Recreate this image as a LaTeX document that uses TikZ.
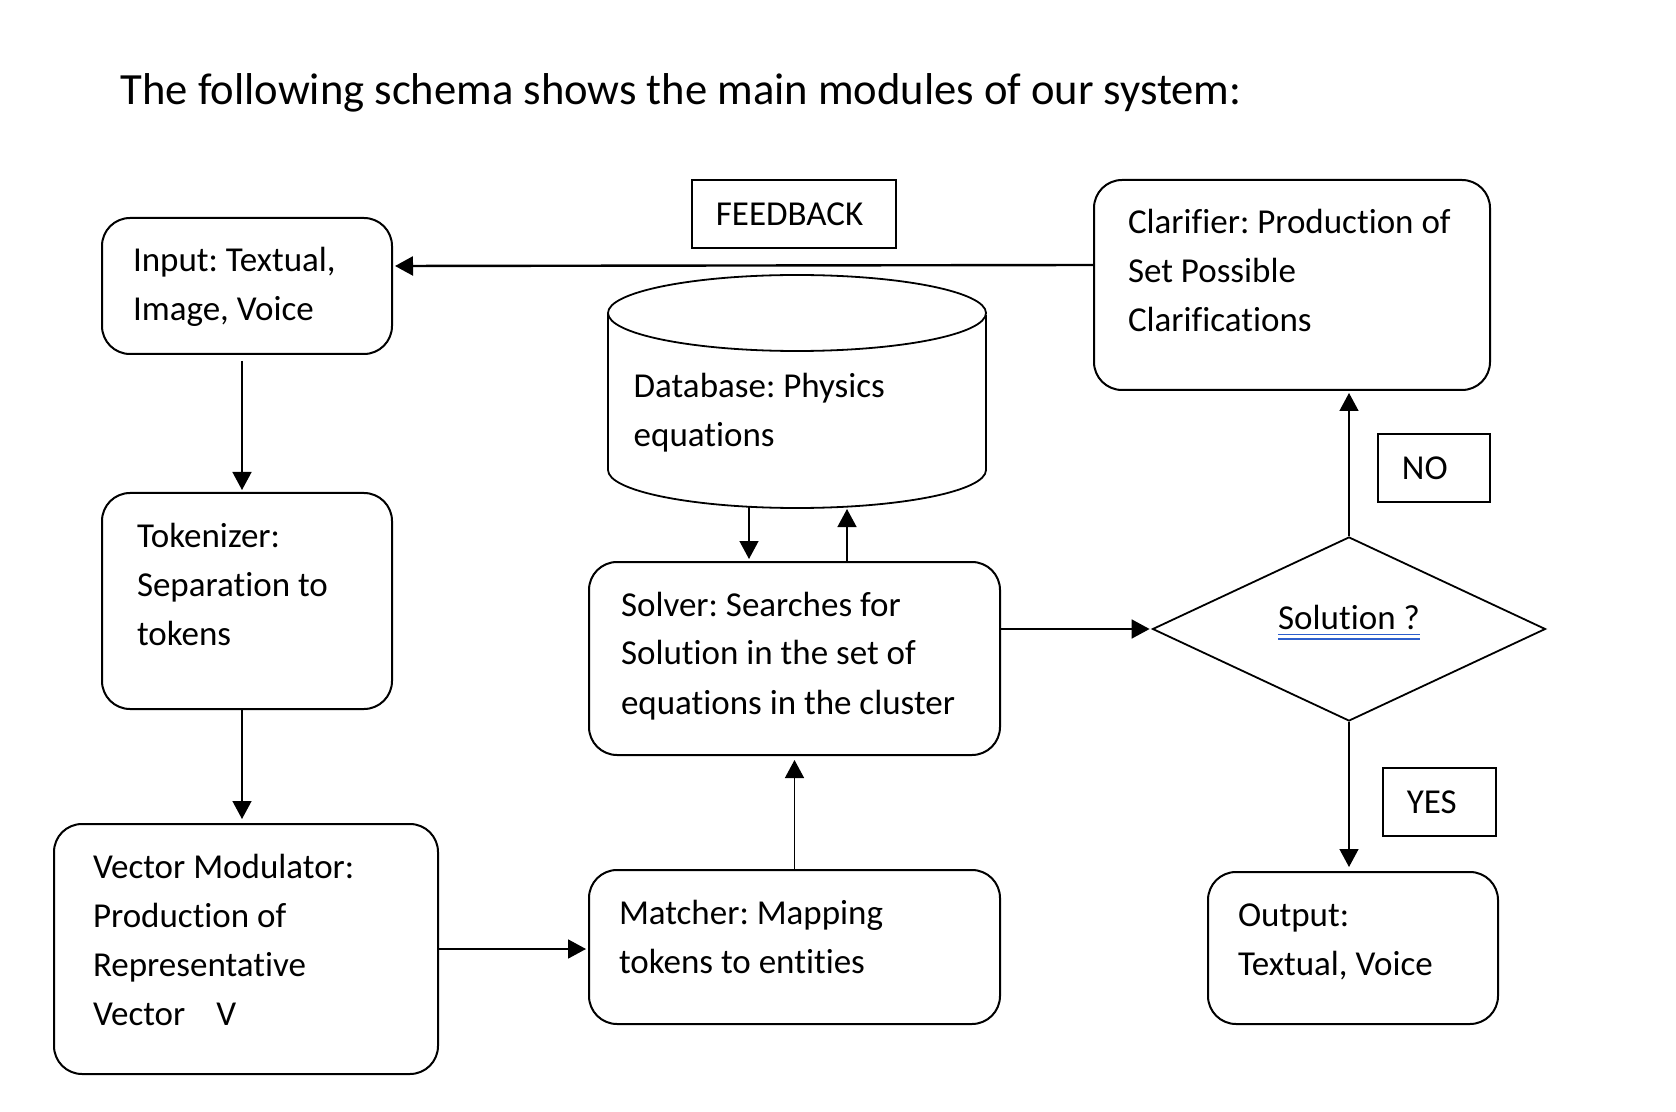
\documentclass[tikz,border=0pt]{standalone}
\usepackage{fontspec}
\setmainfont{Carlito}[Ligatures=NoCommon]
\usepackage{tikz}
\usetikzlibrary{arrows.meta,shapes.geometric}
\frenchspacing

\definecolor{ublue}{RGB}{45,95,205}
\newsavebox{\ulbox}
\newcommand{\dblul}[1]{\sbox{\ulbox}{#1}\rlap{\usebox{\ulbox}}\rlap{\textcolor{ublue}{\rule[-3.2pt]{\wd\ulbox}{0.9pt}}}\textcolor{ublue}{\rule[-5.4pt]{\wd\ulbox}{0.9pt}}}

\begin{document}
\begin{tikzpicture}[->,>={Triangle[length=9pt,width=9.5pt]}, x=0.5pt, y=-0.5pt,
    shorten >=1pt, line width=0.7pt,
    every node/.style={font=\fontsize{17.5}{24.5}\selectfont,
        execute at begin node={\spaceskip=0pt\relax\xspaceskip=0pt\relax}},
    module/.style n args={3}{draw, line width=1pt, rounded corners=14pt, anchor=north west,
        align=left, inner ysep=0pt, text height=27pt, inner xsep=#1, text width=#2, text depth=#3},
    tag/.style={draw, line width=0.9pt, anchor=north west, align=left, inner xsep=12pt,
        inner ysep=0pt, minimum height=34pt, text width=#1},
    decision/.style={draw, diamond, line width=0.9pt, aspect=2.14, inner sep=0pt,
        minimum width=196.5pt, minimum height=92pt, text height=12pt, text depth=12pt},
    thickline/.style={line width=1.2pt}
    ]
\useasboundingbox (0,0) rectangle (1676,1112);
% \draw[help lines] (0,0) grid (1676,1112);
\node[anchor=base west, inner sep=0pt, font=\fontsize{22.3}{27}\selectfont] (title) at (120,105)
    {The following schema shows the main modules of our system:};

\node[module={15.5pt}{114pt}{41pt}] (input) at (101,217) {Input: Textual,\\Image, Voice};
\node[module={17.5pt}{110pt}{81pt}] (tokenizer) at (101,492) {Tokenizer:\\Separation to\\tokens};
\node[module={19.5pt}{153pt}{98pt}] (vector) at (53,823)
    {Vector Modulator:\\Production of\\Representative\\Vector\hspace{15.5pt}V};
\node[module={15pt}{175.5pt}{50pt}] (matcher) at (588,869) {Matcher: Mapping\\tokens to entities};
\node[module={16pt}{173.5pt}{69.5pt}] (solver) at (588,561)
    {Solver: Searches for\\Solution in the set of\\equations in the cluster};
\node[module={17pt}{164pt}{78pt}] (clarifier) at (1093,179)
    {\mbox{Clarifier: Production of}\\Set Possible\\Clarifications};
\node[module={15pt}{115pt}{49pt}] (output) at (1207,871) {Output:\\Textual, Voice};

% database cylinder
\draw[-, line width=0.9pt] (608,313) -- (608,470) arc[start angle=180, end angle=360, x radius=94.5pt, y radius=19pt] -- (986,313);
\draw[-, line width=0.9pt] (797,313) ellipse[x radius=94.5pt, y radius=19pt];
\node[anchor=north west, align=left, inner sep=0pt, text width=170pt, text height=13pt] (db) at (633,371)
    {Database: Physics\\equations};
\coordinate (dbout) at (749,507);
\coordinate (dbin) at (847,507);

\node[decision] (sol) at (1349,629) {\dblul{Solution ?}};

\node[tag=78pt] (feedback) at (691,179) {FEEDBACK};
\node[tag=32pt] (no) at (1377,433) {NO};
\node[tag=32.5pt] (yes) at (1382,767) {YES};

\path
([yshift=10pt]clarifier.west) edge[thickline] ([yshift=10pt]input.east)
([xshift=-2.5pt,yshift=-3pt]input.south) edge ([xshift=-2.5pt]tokenizer.north)
([xshift=-2.5pt]tokenizer.south) edge[shorten >=2pt] ([xshift=-2pt]vector.north)
(vector.east) edge[line width=0.9pt] (vector.east -| matcher.west)
(matcher.north) edge[shorten >=2pt] (solver.south)
(dbout) edge (dbout |- solver.north)
(dbin |- solver.north) edge (dbin)
(solver.east |- sol.west) edge[line width=0.9pt] (sol.west)
(sol.north) edge (sol.north |- clarifier.south)
(sol.south) edge[shorten >=2pt] (sol.south |- output.north)
;
\end{tikzpicture}
\end{document}
